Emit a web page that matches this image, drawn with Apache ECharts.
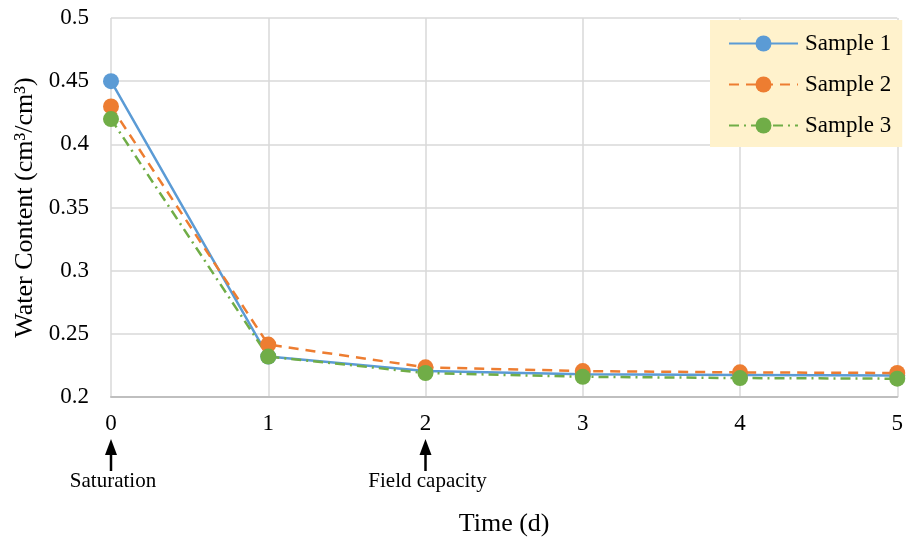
<!DOCTYPE html>
<html>
<head>
<meta charset="utf-8">
<script src="https://cdn.jsdelivr.net/npm/echarts@6/dist/echarts.min.js"></script>
<style>html,body{margin:0;padding:0;background:#fff}#c{width:906px;height:542px}</style>
</head>
<body>
<div id="c"></div>
<script>
const days = [0, 1, 2, 3, 4, 5];
const sample1 = [0.450, 0.232, 0.2205, 0.218, 0.2175, 0.217];
const sample2 = [0.430, 0.2415, 0.2235, 0.2205, 0.2195, 0.219];
const sample3 = [0.420, 0.232, 0.219, 0.216, 0.215, 0.2145];
const seriesNames = ['Sample 1', 'Sample 2', 'Sample 3'];
const yTicks = [0.2, 0.25, 0.3, 0.35, 0.4, 0.45, 0.5];
const annotations = [{x: 0, text: 'Saturation'}, {x: 2, text: 'Field capacity'}];

const FONT = '"Liberation Serif", "Times New Roman", serif';
const chart = echarts.init(document.getElementById('c'));
function mk(name, data, color, type) {
  return {
    name: name, type: 'line', data: days.map((d, i) => [d, data[i]]),
    symbol: 'circle', symbolSize: 16,
    lineStyle: {color: color, width: 2.5, type: type},
    itemStyle: {color: color},
    animation: false
  };
}
chart.setOption({
  animation: false,
  textStyle: {fontFamily: FONT},
  grid: {left: 111, right: 4, top: 18, bottom: 145, containLabel: false},
  xAxis: {
    type: 'value', min: 0, max: 5, interval: 1,
    axisLine: {show: true, lineStyle: {color: '#bfbfbf', width: 2}},
    axisTick: {show: false},
    splitLine: {show: true, lineStyle: {color: '#d9d9d9', width: 1.5}},
    axisLabel: {color: '#000', fontSize: 23, fontFamily: FONT, margin: 15},
    name: 'Time (d)', nameLocation: 'middle', nameGap: 114,
    nameTextStyle: {color: '#000', fontSize: 26, fontFamily: FONT}
  },
  yAxis: {
    type: 'value', min: 0.2, max: 0.5, interval: 0.05,
    axisLine: {show: false},
    axisTick: {show: false},
    splitLine: {show: true, lineStyle: {color: '#d9d9d9', width: 1.5}},
    axisLabel: {color: '#000', fontSize: 23, fontFamily: FONT, margin: 22,
      formatter: v => { const t = yTicks.find(k => Math.abs(k - v) < 1e-9); return t === undefined ? '' : String(t); }},
    name: 'Water Content (cm³/cm³)', nameLocation: 'middle', nameGap: 67,
    nameTextStyle: {color: '#000', fontSize: 26, fontFamily: FONT}
  },
  legend: {
    data: seriesNames, orient: 'vertical', left: 710, top: 20,
    padding: [12, 11, 10, 18],
    backgroundColor: '#fff2cc', borderWidth: 0,
    itemWidth: 69, itemHeight: 20, itemGap: 18,
    textStyle: {color: '#000', fontSize: 23, fontFamily: FONT, padding: [0, 0, 0, 2]}
  },
  series: [
    mk(seriesNames[0], sample1, '#5b9bd5', 'solid'),
    mk(seriesNames[1], sample2, '#ed7d31', [10, 7]),
    mk(seriesNames[2], sample3, '#70ad47', [10, 5, 2, 5])
  ]
});
const els = [];
annotations.forEach(a => {
  const px = chart.convertToPixel({xAxisIndex: 0}, a.x);
  els.push({type: 'polygon', shape: {points: [[px, 439], [px - 6, 455], [px + 6, 455]]}, style: {fill: '#000'}});
  els.push({type: 'line', shape: {x1: px, y1: 453, x2: px, y2: 471}, style: {stroke: '#000', lineWidth: 2.5}});
  els.push({type: 'text', x: px + 2, y: 481, style: {text: a.text, fill: '#000', font: '21px ' + FONT, textAlign: 'center', textVerticalAlign: 'middle'}});
});
chart.setOption({graphic: els});
</script>
</body>
</html>
